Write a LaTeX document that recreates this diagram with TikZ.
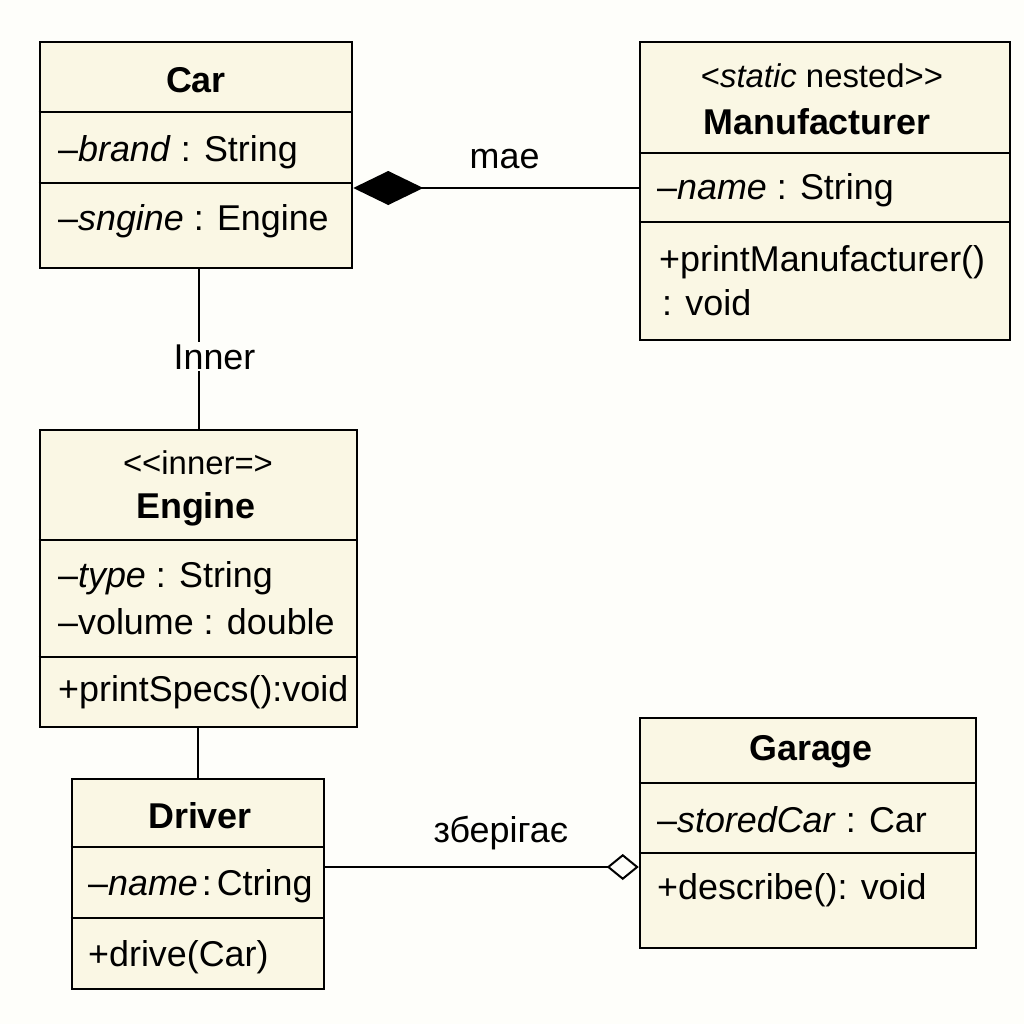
\documentclass[tikz,border=0pt]{standalone}
\usepackage{fontspec}
\setmainfont{Liberation Sans}
\usepackage{tikz}
\usetikzlibrary{arrows.meta,calc,positioning}
\definecolor{boxfill}{RGB}{250,247,228}
\definecolor{paper}{RGB}{254,254,250}
\tikzset{%
        classbox/.style = {draw = black, fill = boxfill, line width = 2.5bp, inner sep = 0pt},
        divider/.style = {draw = black, line width = 2.5bp},
        classname/.style = {inner sep = 0pt, font = \fontsize{36}{41}\selectfont\bfseries},
        stereo/.style = {inner sep = 0pt, font = \fontsize{33}{38}\selectfont},
        member/.style = {anchor = west, inner sep = 0pt, font = \fontsize{36}{41}\selectfont},
        link/.style = {draw = black, line width = 2bp},
        linktext/.style = {inner sep = 2bp, font = \fontsize{36}{41}\selectfont}
}

\begin{document}
\begin{tikzpicture}[x=1bp, y=-1bp]
        \fill[paper] (0,0) rectangle (1024,1024);
        \useasboundingbox (0,0) rectangle (1024,1024);
        % classes
        \node[classbox, minimum width=312bp, minimum height=226bp] (car) at (196,155) {};
        \node[classbox, minimum width=370bp, minimum height=298bp] (manu) at (825,191) {};
        \node[classbox, minimum width=317bp, minimum height=297bp] (engine) at (198.5,578.5) {};
        \node[classbox, minimum width=252bp, minimum height=210bp] (driver) at (198,884) {};
        \node[classbox, minimum width=336bp, minimum height=230bp] (garage) at (808,833) {};
        % compartments
        \foreach \n/\y in {car/112, car/183, manu/153, manu/222, engine/540, engine/657,
                           driver/847, driver/918, garage/783, garage/853}
            \draw[divider] (\n.west |- 0,\y) -- (\n.east |- 0,\y);
        % Car
        \node[classname] (carname) at (196,80) {Car};
        \node[member] (carbrand) at (58,152) {–\textit{brand} : String};
        \node[member] (carengine) at (58,221) {–\textit{sngine} : Engine};
        % Manufacturer
        \node[stereo] (manust) at (822,76) {<\textit{static} nested>\kern0pt>};
        \node[classname] (manuname) at (817,122) {Manufacturer};
        \node[member] (manuattr) at (657,190) {–\textit{name} : String};
        \node[member] (manuop) at (659,262) {+printManufacturer()};
        \node[member] (manuret) at (662,303) {: void};
        % Engine
        \node[stereo] (engst) at (198,463) {<\kern0pt<inner=>};
        \node[classname] (engname) at (196,509) {Engine};
        \node[member] (engtype) at (58,578) {–\textit{type} : String};
        \node[member] (engvol) at (58,622) {–volume : double};
        \node[member] (engop) at (58,692) {+printSpecs():void};
        % Driver
        \node[classname] (drvname) at (200,816) {Driver};
        \node[member] (drvattr) at (88,886) {–\textit{name}\hspace{4bp}:\hspace{5bp}Ctring};
        \node[member] (drvop) at (88,957) {+drive(Car)};
        % Garage
        \node[classname] (garname) at (811,752) {Garage};
        \node[member] (garattr) at (657,820) {–\textit{storedCar} : Car};
        \node[member] (garop) at (657,890) {+describe(): void};
        % relations
        \draw[link, {Diamond[length=70bp, width=34bp]}-]
            (car.east |- 0,188) -- node[linktext, above=16bp, pos=0.53] {mae} (manu.west |- 0,188);
        \draw[link] (engine.north |- car.south) -- (engine.north)
            node[linktext, fill=paper, pos=0.55, xshift=16bp] {Inner};
        \draw[link] (engine.south -| driver.north) -- (driver.north);
        \draw[link, -{Diamond[open, length=32bp, width=26bp, fill=paper]}]
            (driver.east |- 0,867) -- node[linktext, above=14bp, pos=0.56] {зберігає} (garage.west |- 0,867);
\end{tikzpicture}
\end{document}
